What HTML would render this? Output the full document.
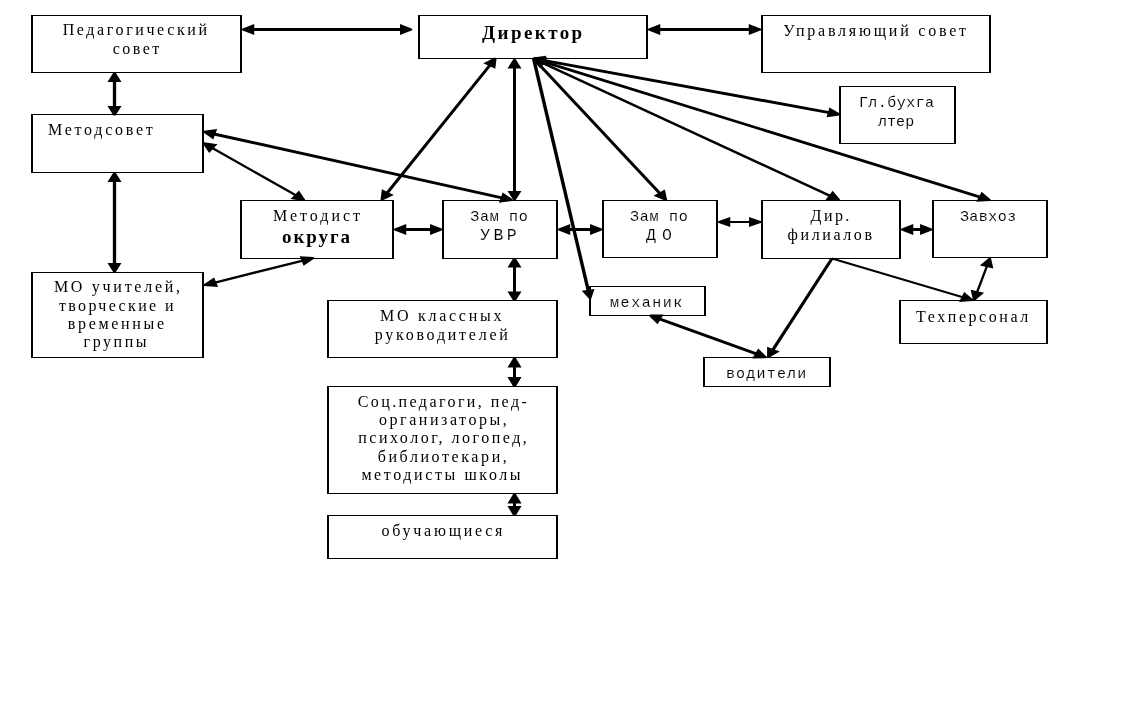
<!DOCTYPE html>
<html lang="ru">
<head>
<meta charset="utf-8">
<title>Структура управления</title>
<style>
html,body{margin:0;padding:0;background:#fff;}
body{width:1133px;height:721px;overflow:hidden;}
svg{display:block;filter:grayscale(1);}
.boxes rect{shape-rendering:crispEdges;}
.boxes .o{fill:#000;}
.boxes .i{fill:#fff;}
.arrows line{stroke:#000;stroke-linecap:butt;}
.arrows polygon{fill:#000;stroke:none;}
.labels text{fill:#000;}
.ts{font-family:"Liberation Serif",serif;}
.tb{font-family:"Liberation Serif",serif;font-weight:bold;}
.tm{font-family:"Liberation Mono",monospace;stroke:#fff;stroke-width:0.12px;}
</style>
</head>
<body>
<svg width="1133" height="721" viewBox="0 0 1133 721">
<rect x="0" y="0" width="1133" height="721" fill="#fff"/>
<g class="boxes">
<rect class="o" x="31" y="15" width="211" height="58"/><rect class="i" x="33" y="16" width="207" height="56"/>
<rect class="o" x="31" y="114" width="173" height="59"/><rect class="i" x="33" y="115" width="169" height="57"/>
<rect class="o" x="31" y="272" width="173" height="86"/><rect class="i" x="33" y="273" width="169" height="84"/>
<rect class="o" x="418" y="15" width="230" height="44"/><rect class="i" x="420" y="16" width="226" height="42"/>
<rect class="o" x="761" y="15" width="230" height="58"/><rect class="i" x="763" y="16" width="226" height="56"/>
<rect class="o" x="839" y="86" width="117" height="58"/><rect class="i" x="841" y="87" width="113" height="56"/>
<rect class="o" x="240" y="200" width="154" height="59"/><rect class="i" x="242" y="201" width="150" height="57"/>
<rect class="o" x="442" y="200" width="116" height="59"/><rect class="i" x="444" y="201" width="112" height="57"/>
<rect class="o" x="602" y="200" width="116" height="58"/><rect class="i" x="604" y="201" width="112" height="56"/>
<rect class="o" x="761" y="200" width="140" height="59"/><rect class="i" x="763" y="201" width="136" height="57"/>
<rect class="o" x="932" y="200" width="116" height="58"/><rect class="i" x="934" y="201" width="112" height="56"/>
<rect class="o" x="589" y="286" width="117" height="30"/><rect class="i" x="591" y="287" width="113" height="28"/>
<rect class="o" x="703" y="357" width="128" height="30"/><rect class="i" x="705" y="358" width="124" height="28"/>
<rect class="o" x="899" y="300" width="149" height="44"/><rect class="i" x="901" y="301" width="145" height="42"/>
<rect class="o" x="327" y="300" width="231" height="58"/><rect class="i" x="329" y="301" width="227" height="56"/>
<rect class="o" x="327" y="386" width="231" height="108"/><rect class="i" x="329" y="387" width="227" height="106"/>
<rect class="o" x="327" y="515" width="231" height="44"/><rect class="i" x="329" y="516" width="227" height="42"/>
</g>
<g class="arrows">
<polygon points="242.00,30.30 254.22,34.90 254.22,24.10 242.00,28.70"/>
<polygon points="412.20,30.30 399.98,34.90 399.98,24.10 412.20,28.70"/>
<line x1="252.92" y1="29.50" x2="401.28" y2="29.50" stroke-width="3"/>
<polygon points="648.00,30.30 660.22,34.90 660.22,24.10 648.00,28.70"/>
<polygon points="761.00,30.30 748.78,34.90 748.78,24.10 761.00,28.70"/>
<line x1="658.92" y1="29.50" x2="750.08" y2="29.50" stroke-width="3"/>
<polygon points="113.46,72.50 107.48,81.90 121.52,81.90 115.54,72.50"/>
<polygon points="113.46,115.50 107.48,106.10 121.52,106.10 115.54,115.50"/>
<line x1="114.50" y1="80.90" x2="114.50" y2="107.10" stroke-width="3.3"/>
<polygon points="113.46,172.50 107.48,181.90 121.52,181.90 115.54,172.50"/>
<polygon points="113.46,272.50 107.48,263.10 121.52,263.10 115.54,272.50"/>
<line x1="114.50" y1="180.90" x2="114.50" y2="264.10" stroke-width="3.3"/>
<polygon points="203.21,132.37 213.29,139.39 217.19,129.02 203.79,130.83"/>
<polygon points="512.21,200.97 498.81,202.78 502.71,192.41 512.79,199.43"/>
<line x1="213.99" y1="133.93" x2="502.01" y2="197.87" stroke-width="3"/>
<polygon points="202.88,143.64 209.17,152.92 217.50,144.23 204.12,142.36"/>
<polygon points="303.98,200.94 290.60,199.07 298.93,190.38 305.22,199.66"/>
<line x1="212.29" y1="147.98" x2="295.81" y2="195.32" stroke-width="2.3"/>
<polygon points="494.82,57.58 483.30,63.16 495.24,68.83 496.58,58.42"/>
<polygon points="380.52,199.78 381.86,189.37 393.80,195.04 382.28,200.62"/>
<line x1="489.96" y1="65.14" x2="387.14" y2="193.06" stroke-width="3"/>
<polygon points="513.46,59.00 507.48,68.40 521.52,68.40 515.54,59.00"/>
<polygon points="513.46,200.30 507.48,190.90 521.52,190.90 515.54,200.30"/>
<line x1="514.50" y1="67.40" x2="514.50" y2="191.90" stroke-width="3"/>
<polygon points="589.18,298.94 581.72,290.84 594.51,289.05 591.22,298.66"/>
<line x1="533.60" y1="58.50" x2="588.35" y2="290.93" stroke-width="3.4"/>
<polygon points="665.46,200.77 653.46,195.83 664.85,189.52 667.14,199.83"/>
<line x1="533.50" y1="58.50" x2="659.92" y2="193.48" stroke-width="3"/>
<polygon points="532.46,59.18 543.21,65.46 546.22,55.73 532.94,57.62"/>
<polygon points="839.76,115.38 826.48,117.27 829.49,107.54 840.24,113.82"/>
<line x1="543.45" y1="60.37" x2="829.25" y2="112.63" stroke-width="3"/>
<polygon points="532.46,59.19 539.85,67.97 547.09,58.72 533.54,57.81"/>
<polygon points="838.96,200.99 825.41,200.08 832.65,190.83 840.04,199.61"/>
<line x1="542.36" y1="62.83" x2="830.14" y2="195.97" stroke-width="2.5"/>
<polygon points="532.61,59.24 541.71,67.02 546.96,57.01 533.39,57.76"/>
<polygon points="989.91,201.04 976.34,201.79 981.59,191.78 990.69,199.56"/>
<line x1="543.13" y1="61.64" x2="980.17" y2="197.16" stroke-width="2.8"/>
<polygon points="394.00,230.30 406.22,234.90 406.22,224.10 394.00,228.70"/>
<polygon points="442.30,230.30 430.08,234.90 430.08,224.10 442.30,228.70"/>
<line x1="404.92" y1="229.50" x2="431.38" y2="229.50" stroke-width="3"/>
<polygon points="558.00,230.30 570.22,234.90 570.22,224.10 558.00,228.70"/>
<polygon points="602.30,230.30 590.08,234.90 590.08,224.10 602.30,228.70"/>
<line x1="568.92" y1="229.50" x2="591.38" y2="229.50" stroke-width="3"/>
<polygon points="718.00,222.80 730.22,227.00 730.22,217.00 718.00,221.20"/>
<polygon points="761.30,222.80 749.08,227.00 749.08,217.00 761.30,221.20"/>
<line x1="728.92" y1="222.00" x2="750.38" y2="222.00" stroke-width="2"/>
<polygon points="901.00,230.30 913.22,234.90 913.22,224.10 901.00,228.70"/>
<polygon points="932.30,230.30 920.08,234.90 920.08,224.10 932.30,228.70"/>
<line x1="911.92" y1="229.50" x2="921.38" y2="229.50" stroke-width="3"/>
<polygon points="313.68,257.04 299.63,256.13 303.64,265.64 314.32,258.56"/>
<polygon points="203.48,284.54 214.16,277.46 218.17,286.97 204.12,286.06"/>
<line x1="302.87" y1="260.58" x2="214.93" y2="282.52" stroke-width="2.3"/>
<polygon points="513.46,258.00 507.48,267.40 521.52,267.40 515.54,258.00"/>
<polygon points="513.46,301.00 507.48,291.60 521.52,291.60 515.54,301.00"/>
<line x1="514.50" y1="266.40" x2="514.50" y2="292.60" stroke-width="3"/>
<polygon points="513.46,357.50 507.48,367.50 521.52,367.50 515.54,357.50"/>
<polygon points="513.46,387.00 507.48,377.00 521.52,377.00 515.54,387.00"/>
<line x1="514.50" y1="366.50" x2="514.50" y2="378.00" stroke-width="3"/>
<polygon points="513.46,493.50 507.48,503.50 521.52,503.50 515.54,493.50"/>
<polygon points="513.46,516.00 507.48,506.00 521.52,506.00 515.54,516.00"/>
<line x1="514.50" y1="502.50" x2="514.50" y2="507.00" stroke-width="3"/>
<polygon points="767.07,357.14 767.16,346.68 779.73,351.49 768.93,357.86"/>
<line x1="832.00" y1="258.50" x2="772.86" y2="349.98" stroke-width="3.2"/>
<polygon points="972.63,301.05 959.07,301.96 964.12,291.88 973.37,299.55"/>
<line x1="832.00" y1="258.50" x2="962.81" y2="297.28" stroke-width="2"/>
<polygon points="989.00,257.78 979.85,265.52 993.33,268.53 991.00,258.22"/>
<polygon points="973.00,300.08 970.67,289.77 984.15,292.78 975.00,300.52"/>
<line x1="986.95" y1="266.07" x2="977.05" y2="292.23" stroke-width="2.3"/>
<polygon points="649.06,316.02 657.58,324.18 663.55,314.41 649.94,314.58"/>
<polygon points="765.86,358.22 752.25,358.39 758.22,348.62 766.74,356.78"/>
<line x1="659.38" y1="318.87" x2="756.42" y2="353.93" stroke-width="3"/>
</g>
<g class="labels">
<text class="ts" x="62.70" y="34.80" font-size="16" letter-spacing="2.600">Педагогический</text>
<text class="ts" x="112.80" y="53.90" font-size="16" letter-spacing="2.428">совет</text>
<text class="ts" x="48.10" y="135.40" font-size="16" letter-spacing="2.706">Методсовет</text>
<text class="ts" x="53.90" y="292.30" font-size="16" letter-spacing="2.725">МО учителей,</text>
<text class="ts" x="58.90" y="311.10" font-size="16" letter-spacing="2.356">творческие и</text>
<text class="ts" x="67.70" y="329.10" font-size="16" letter-spacing="2.703">временные</text>
<text class="ts" x="83.50" y="346.70" font-size="16" letter-spacing="2.570">группы</text>
<text class="tb" x="482.00" y="38.90" font-size="19" letter-spacing="2.439">Директор</text>
<text class="ts" x="783.30" y="35.50" font-size="16" letter-spacing="2.774">Управляющий совет</text>
<text class="tm" x="858.90" y="106.70" font-size="15" letter-spacing="0.457">Гл.бухга</text>
<text class="tm" x="877.90" y="125.80" font-size="15" letter-spacing="0.100">лтер</text>
<text class="ts" x="272.90" y="220.70" font-size="16" letter-spacing="2.993">Методист</text>
<text class="tb" x="282.00" y="242.70" font-size="19" letter-spacing="1.925">округа</text>
<text class="tm" x="470.20" y="220.90" font-size="15" letter-spacing="0.720">Зам по</text>
<text class="tm" x="480.20" y="240.20" font-size="16.5" letter-spacing="3.356">УВР</text>
<text class="tm" x="630.10" y="220.90" font-size="15" letter-spacing="0.720">Зам по</text>
<text class="tm" x="645.90" y="240.20" font-size="16.5" letter-spacing="6.188">ДО</text>
<text class="ts" x="810.60" y="220.90" font-size="16" letter-spacing="2.433">Дир.</text>
<text class="ts" x="787.50" y="240.20" font-size="16" letter-spacing="2.607">филиалов</text>
<text class="tm" x="959.90" y="221.20" font-size="15" letter-spacing="0.480">Завхоз</text>
<text class="tm" x="610.10" y="307.10" font-size="15" letter-spacing="1.517">механик</text>
<text class="tm" x="725.90" y="378.00" font-size="15" letter-spacing="1.200">водители</text>
<text class="ts" x="916.00" y="321.90" font-size="16" letter-spacing="2.567">Техперсонал</text>
<text class="ts" x="380.00" y="321.10" font-size="16" letter-spacing="2.731">МО классных</text>
<text class="ts" x="374.70" y="340.40" font-size="16" letter-spacing="2.743">руководителей</text>
<text class="ts" x="357.70" y="406.90" font-size="16" letter-spacing="2.410">Соц.педагоги, пед-</text>
<text class="ts" x="379.00" y="425.20" font-size="16" letter-spacing="2.541">организаторы,</text>
<text class="ts" x="358.20" y="443.30" font-size="16" letter-spacing="2.513">психолог, логопед,</text>
<text class="ts" x="377.70" y="461.60" font-size="16" letter-spacing="2.586">библиотекари,</text>
<text class="ts" x="361.40" y="479.60" font-size="16" letter-spacing="2.595">методисты школы</text>
<text class="ts" x="381.50" y="536.10" font-size="16" letter-spacing="2.750">обучающиеся</text>
</g>
</svg>
</body>
</html>
